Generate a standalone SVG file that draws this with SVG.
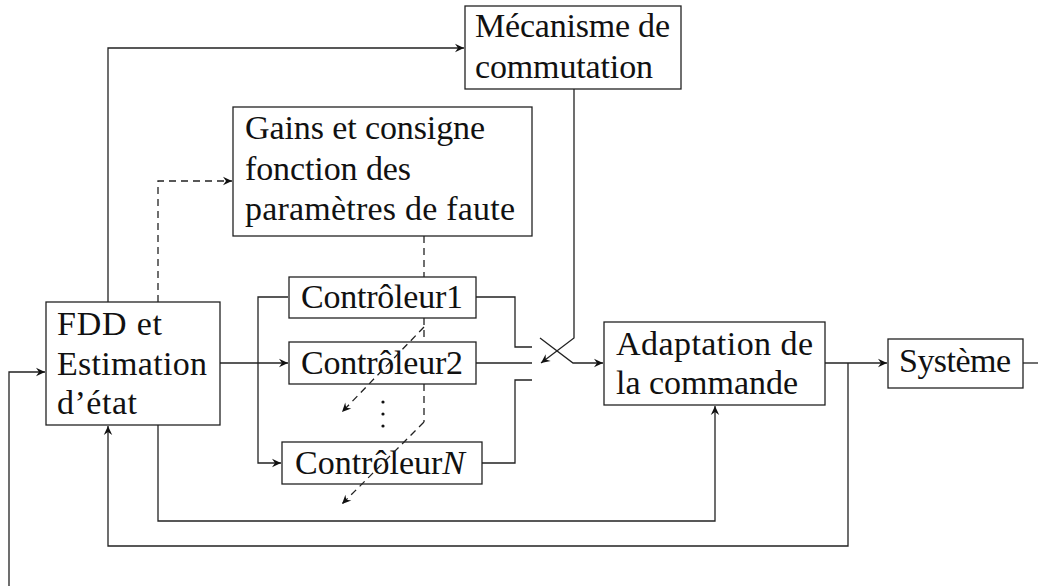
<svg xmlns="http://www.w3.org/2000/svg" width="1038" height="586" viewBox="0 0 1038 586">
<style>
.box{fill:#fff;stroke:#222;stroke-width:1.3}
.t{font-family:'Liberation Serif','Times New Roman',serif;font-size:34px;fill:#111}
.c{fill:none;stroke:#222;stroke-width:1.3}
.a{marker-end:url(#arr)}
.d{stroke-dasharray:7 5}
</style>
<defs>
<marker id="arr" viewBox="-10 -5 11 10" refX="0" refY="0" markerWidth="11" markerHeight="10" markerUnits="userSpaceOnUse" orient="auto">
<path d="M0,0 L-9,-4.2 L-6,0 L-9,4.2 Z" fill="#111"/>
</marker>
</defs>
<rect width="1038" height="586" fill="#fff"/>
<g id="mecanisme">
<rect class="box" x="465" y="6" width="216" height="83"/>
<text class="t" font-family="Liberation Serif, serif" x="475" y="37" textLength="195">Mécanisme de</text>
<text class="t" font-family="Liberation Serif, serif" x="475" y="78" textLength="178">commutation</text>
</g>
<g id="gains">
<rect class="box" x="233" y="107" width="299" height="129"/>
<text class="t" x="245" y="139" textLength="240">Gains et consigne</text>
<text class="t" x="245" y="180" textLength="166">fonction des</text>
<text class="t" x="245" y="220" textLength="270">paramètres de faute</text>
</g>
<g id="fdd">
<rect class="box" x="46" y="302" width="174" height="123"/>
<text class="t" x="57" y="335" textLength="105">FDD et</text>
<text class="t" x="57" y="375" textLength="150">Estimation</text>
<text class="t" x="57" y="414" textLength="80">d’état</text>
</g>
<g id="controleur1">
<rect class="box" x="289" y="277" width="187" height="41"/>
<text class="t" x="301" y="308" textLength="162">Contrôleur1</text>
</g>
<g id="controleur2">
<rect class="box" x="289" y="342" width="187" height="42"/>
<text class="t" x="301" y="374" textLength="162">Contrôleur2</text>
</g>
<g id="controleurN">
<rect class="box" x="282" y="442" width="200" height="42"/>
<text class="t" x="295" y="474">Contrôleur<tspan font-style="italic">N</tspan></text>
</g>
<g id="adaptation">
<rect class="box" x="604" y="322" width="221" height="83"/>
<text class="t" x="616" y="355" textLength="197">Adaptation de</text>
<text class="t" x="616" y="394" textLength="182">la commande</text>
</g>
<g id="systeme">
<rect class="box" x="888" y="339" width="135" height="49"/>
<text class="t" x="899" y="372" textLength="112">Système</text>
</g>
<g id="vdots" fill="#111">
<circle cx="383" cy="402" r="1.6"/>
<circle cx="383" cy="414" r="1.6"/>
<circle cx="383" cy="426" r="1.6"/>
</g>
<g id="connectors">
<polyline class="c a" points="108,302 108,48 464,48"/>
<polyline class="c d a" points="158,302 158,181 232,181"/>
<line class="c a" x1="220" y1="363" x2="288" y2="363"/>
<polyline class="c a" points="288,297 258,297 258,463 281,463"/>
<polyline class="c" points="476,297 515,297 515,347 532,347"/>
<line class="c" x1="476" y1="363" x2="532" y2="363"/>
<polyline class="c" points="482,463 515,463 515,380 532,380"/>
<polyline class="c a" points="540,338 573,363 603,363"/>
<polyline class="c a" points="574,89 574,338 541,363"/>
<line class="c a" x1="825" y1="363" x2="887" y2="363"/>
<line class="c" x1="1023" y1="363" x2="1038" y2="363"/>
<polyline class="c a" points="848,363 848,546 108,546 108,426"/>
<polyline class="c a" points="158,425 158,521 715,521 715,406"/>
<polyline class="c a" points="9,586 9,372 45,372"/>
<line class="c d" x1="424" y1="236" x2="424" y2="277"/>
<line class="c d" x1="424" y1="318" x2="424" y2="342"/>
<line class="c d" x1="424" y1="384" x2="424" y2="422"/>
<polyline class="c d a" points="424,327 342,412"/>
<polyline class="c d a" points="424,422 342,504"/>
</g>
</svg>
